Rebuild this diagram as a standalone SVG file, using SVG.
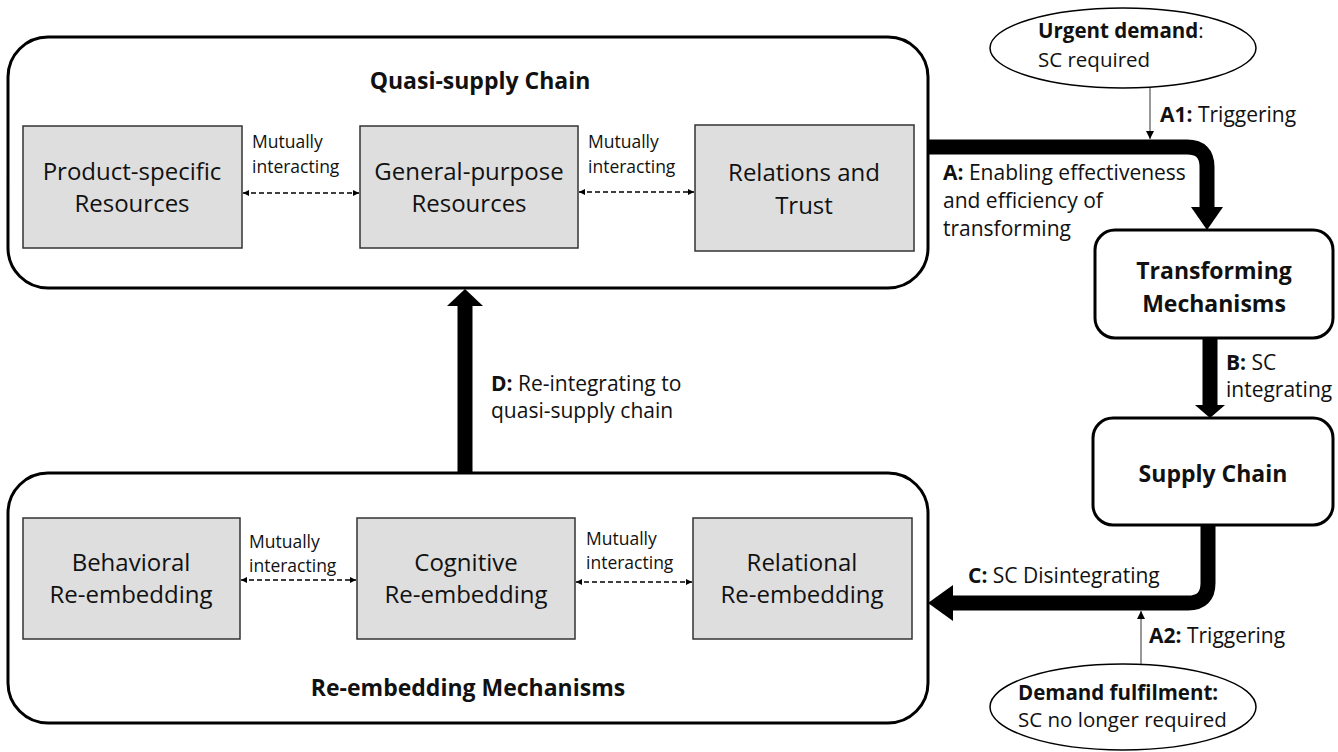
<svg xmlns="http://www.w3.org/2000/svg" width="1338" height="752" viewBox="0 0 1338 752">
  <style>
    .container { fill: #ffffff; stroke: #000000; stroke-width: 3; }
    .box { fill: #dedede; stroke: #333333; stroke-width: 1.5; }
    .stage { fill: #ffffff; stroke: #000000; stroke-width: 3; }
    .oval { fill: #ffffff; stroke: #000000; stroke-width: 1.5; }
    .t { font-family: "Open Sans", "Noto Sans", sans-serif; fill: #111111; }
    .boxlabel { font-size: 24px; text-anchor: middle; }
    .title { font-size: 23px; font-weight: bold; text-anchor: middle; }
    .stagelabel { font-size: 23px; font-weight: bold; text-anchor: middle; }
    .small { font-size: 17.5px; }
    .lbl { font-size: 21px; }
    .oval-text { font-size: 20.5px; }
    .b { font-weight: bold; }
    .dash { fill: none; stroke: #000000; stroke-width: 1.5; stroke-dasharray: 5 3; marker-start: url(#tipStart); marker-end: url(#tipEnd); }
    .thin { fill: none; stroke: #333333; stroke-width: 1; }
    .thick { fill: none; stroke: #000000; stroke-width: 15; }
    .head { fill: #000000; }
  </style>
  <defs>
    <marker id="tipEnd" viewBox="0 0 10 10" refX="10" refY="5" markerWidth="6" markerHeight="6" markerUnits="userSpaceOnUse" orient="auto">
      <path d="M0,0 L10,5 L0,10 z" fill="#000"/>
    </marker>
    <marker id="tipStart" viewBox="0 0 10 10" refX="0" refY="5" markerWidth="6" markerHeight="6" markerUnits="userSpaceOnUse" orient="auto">
      <path d="M10,0 L0,5 L10,10 z" fill="#000"/>
    </marker>
    <marker id="thinTip" viewBox="0 0 10 10" refX="10" refY="5" markerWidth="8" markerHeight="8" markerUnits="userSpaceOnUse" orient="auto">
      <path d="M0,0 L10,5 L0,10 z" fill="#000"/>
    </marker>
  </defs>

  <!-- Quasi-supply chain container -->
  <g id="quasi-supply-chain">
    <rect class="container" x="8" y="37" width="920" height="251" rx="40"/>
    <text class="t title" x="480" y="89">Quasi-supply Chain</text>
  </g>
  <g id="product-specific">
    <rect class="box" x="23" y="126" width="219" height="122"/>
    <text class="t boxlabel" x="132" y="180">Product-specific</text>
    <text class="t boxlabel" x="132" y="212">Resources</text>
  </g>
  <g id="general-purpose">
    <rect class="box" x="360" y="126" width="218" height="122"/>
    <text class="t boxlabel" x="469" y="180">General-purpose</text>
    <text class="t boxlabel" x="469" y="212">Resources</text>
  </g>
  <g id="relations-trust">
    <rect class="box" x="695" y="125" width="219" height="126"/>
    <text class="t boxlabel" x="804" y="181">Relations and</text>
    <text class="t boxlabel" x="804" y="214">Trust</text>
  </g>

  <!-- Re-embedding mechanisms container -->
  <g id="re-embedding">
    <rect class="container" x="8" y="473" width="920" height="250" rx="40"/>
    <text class="t title" x="468" y="696">Re-embedding Mechanisms</text>
  </g>
  <g id="behavioral">
    <rect class="box" x="23" y="518" width="217" height="121"/>
    <text class="t boxlabel" x="131" y="571">Behavioral</text>
    <text class="t boxlabel" x="131" y="603">Re-embedding</text>
  </g>
  <g id="cognitive">
    <rect class="box" x="357" y="518" width="218" height="121"/>
    <text class="t boxlabel" x="466" y="571">Cognitive</text>
    <text class="t boxlabel" x="466" y="603">Re-embedding</text>
  </g>
  <g id="relational">
    <rect class="box" x="693" y="518" width="219" height="121"/>
    <text class="t boxlabel" x="802" y="571">Relational</text>
    <text class="t boxlabel" x="802" y="603">Re-embedding</text>
  </g>

  <!-- Right-hand stages -->
  <g id="urgent-demand">
    <ellipse class="oval" cx="1123" cy="48" rx="133" ry="40"/>
    <text class="t oval-text" x="1038" y="38"><tspan class="b">Urgent demand</tspan>:</text>
    <text class="t oval-text" x="1038" y="67">SC required</text>
  </g>
  <g id="transforming">
    <rect class="stage" x="1095" y="230" width="238" height="108" rx="20"/>
    <text class="t stagelabel" x="1214" y="279">Transforming</text>
    <text class="t stagelabel" x="1214" y="312">Mechanisms</text>
  </g>
  <g id="supply-chain">
    <rect class="stage" x="1093" y="418" width="240" height="107" rx="20"/>
    <text class="t stagelabel" x="1213" y="482">Supply Chain</text>
  </g>
  <g id="demand-fulfilment">
    <ellipse class="oval" cx="1123" cy="707" rx="133" ry="43"/>
    <text class="t oval-text b" x="1018" y="700">Demand fulfilment:</text>
    <text class="t oval-text" x="1018" y="727">SC no longer required</text>
  </g>

  <!-- Connectors -->
  <g id="connectors">
    <!-- mutual interaction links -->
    <line class="dash" x1="243" y1="193" x2="359" y2="193"/>
    <line class="dash" x1="579" y1="192" x2="694" y2="192"/>
    <line class="dash" x1="241" y1="580" x2="356" y2="580"/>
    <line class="dash" x1="576" y1="582" x2="692" y2="582"/>

    <!-- A: quasi-supply chain to transforming -->
    <path class="thick" d="M928,147 H1187 Q1207,147 1207,167 V208"/>
    <polygon class="head" points="1191,207 1223,207 1207,230"/>

    <!-- B: transforming to supply chain -->
    <line class="thick" x1="1210" y1="338" x2="1210" y2="406"/>
    <polygon class="head" points="1195,405 1225,405 1210,418"/>

    <!-- C: supply chain to re-embedding -->
    <path class="thick" d="M1208,525 V583 Q1208,603 1188,603 H952"/>
    <polygon class="head" points="953,585 953,621 928,603"/>

    <!-- D: re-embedding back to quasi-supply chain -->
    <line class="thick" x1="465" y1="473" x2="465" y2="304"/>
    <polygon class="head" points="447,306 483,306 465,289"/>

    <!-- triggers -->
    <line class="thin" x1="1150" y1="88" x2="1150" y2="139" marker-end="url(#thinTip)"/>
    <line class="thin" x1="1141" y1="664" x2="1141" y2="611" marker-end="url(#thinTip)"/>
  </g>

  <!-- Connector labels -->
  <g id="labels">
    <text class="t small" x="252" y="148">Mutually</text>
    <text class="t small" x="252" y="173">interacting</text>
    <text class="t small" x="588" y="148">Mutually</text>
    <text class="t small" x="588" y="173">interacting</text>
    <text class="t small" x="249" y="548">Mutually</text>
    <text class="t small" x="249" y="572">interacting</text>
    <text class="t small" x="586" y="545">Mutually</text>
    <text class="t small" x="586" y="569">interacting</text>

    <text class="t lbl" x="1160" y="122"><tspan class="b">A1:</tspan> Triggering</text>
    <text class="t lbl" x="943" y="180"><tspan class="b">A:</tspan> Enabling effectiveness</text>
    <text class="t lbl" x="943" y="208">and efficiency of</text>
    <text class="t lbl" x="943" y="236">transforming</text>
    <text class="t lbl" x="1226" y="370"><tspan class="b">B:</tspan> SC</text>
    <text class="t lbl" x="1226" y="397">integrating</text>
    <text class="t lbl" x="968" y="583"><tspan class="b">C:</tspan> SC Disintegrating</text>
    <text class="t lbl" x="1149" y="643"><tspan class="b">A2:</tspan> Triggering</text>
    <text class="t lbl" x="491" y="391"><tspan class="b">D:</tspan> Re-integrating to</text>
    <text class="t lbl" x="491" y="418">quasi-supply chain</text>
  </g>
</svg>
